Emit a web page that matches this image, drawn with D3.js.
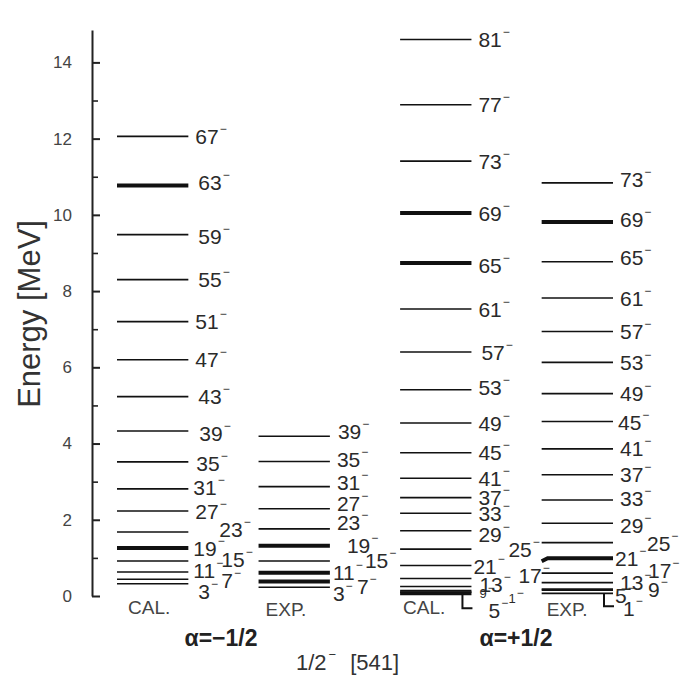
<!DOCTYPE html>
<meta charset="utf-8">
<script src="https://cdn.jsdelivr.net/npm/d3@7"></script>
<style>
  body { margin: 0; background: #fff; }
  text { font-family: "Liberation Sans", Arial, sans-serif; }
</style>
<body>
<div id="my_dataviz"></div>
<script>

// columns of the level scheme
var columns = ["calMinus", "expMinus", "calPlus", "expPlus"];
var columnNames = ["CAL.", "EXP.", "CAL.", "EXP."];

// alpha = -1/2, calculated
var calMinusSpin = [3, 7, 11, 15, 19, 23, 27, 31, 35, 39, 43, 47, 51, 55, 59, 63, 67];
var calMinusE = [0.32, 0.44, 0.63, 0.92, 1.26, 1.68, 2.23, 2.81, 3.52, 4.33, 5.23, 6.20, 7.20, 8.30, 9.48, 10.77, 12.06];
var calMinusThick = [19, 63];

// alpha = -1/2, experiment
var expMinusSpin = [3, 7, 11, 15, 19, 23, 27, 31, 35, 39];
var expMinusE = [0.23, 0.38, 0.61, 0.92, 1.32, 1.76, 2.29, 2.87, 3.53, 4.19];
var expMinusThick = [7, 11, 19];

// alpha = +1/2, calculated
var calPlusSpin = [1, 5, 9, 13, 17, 21, 25, 29, 33, 37, 41, 45, 49, 53, 57, 61, 65, 69, 73, 77, 81];
var calPlusE = [0.10, 0.07, 0.14, 0.25, 0.46, 0.80, 1.23, 1.71, 2.17, 2.58, 3.09, 3.76, 4.54, 5.41, 6.40, 7.53, 8.74, 10.05, 11.41, 12.89, 14.60];
var calPlusThick = [5, 65, 69];

// alpha = +1/2, experiment
var expPlusSpin = [1, 5, 9, 13, 17, 21, 25, 29, 33, 37, 41, 45, 49, 53, 57, 61, 65, 69, 73];
var expPlusE = [0.07, 0.15, 0.18, 0.35, 0.60, 0.99, 1.40, 1.91, 2.52, 3.18, 3.86, 4.58, 5.31, 6.13, 6.94, 7.82, 8.77, 9.81, 10.84];
var expPlusThick = [21, 69];

// axis ticks
var majorTicks = [0, 2, 4, 6, 8, 10, 12, 14];
var minorTicks = [1, 3, 5, 7, 9, 11, 13];

// label nudges for the crowded bottom of each column [dx, dy] in px
var labelNudge = {
  "calMinus-63": [3, -3], "calMinus-59": [3, 2], "calMinus-55": [3, 0], "calMinus-43": [3, 0],
  "calMinus-39": [4, 2], "calMinus-35": [1, 2], "calMinus-31": [-2, -1],
  "calMinus-23": [24, -3], "calMinus-19": [-2, 0], "calMinus-15": [26, -1],
  "calMinus-11": [-2, -2], "calMinus-7": [26, 1], "calMinus-3": [3, 8],
  "expMinus-39": [1, -5], "expMinus-35": [0, -2], "expMinus-31": [0, -4], "expMinus-27": [0, -5],
  "expMinus-23": [0, -6], "expMinus-19": [10, 0], "expMinus-15": [28, 0],
  "expMinus-11": [-4, 0], "expMinus-7": [20, 5], "expMinus-3": [-4, 6],
  "calPlus-65": [0, 3], "calPlus-57": [3, 0], "calPlus-53": [0, -2], "calPlus-29": [0, 4],
  "calPlus-25": [30, 0], "calPlus-21": [-5, 1], "calPlus-17": [40, -3], "calPlus-13": [1, -2],
  "calPlus-9": [1, 3], "calPlus-5": [10, 17], "calPlus-1": [30, 6],
  "expPlus-73": [0, -3], "expPlus-69": [0, -3], "expPlus-65": [0, -4], "expPlus-45": [-2, 1],
  "expPlus-33": [0, -2], "expPlus-29": [0, 2],
  "expPlus-25": [27, 1], "expPlus-21": [-5, 0], "expPlus-17": [28, -3],
  "expPlus-9": [28, 0], "expPlus-5": [-5, 5], "expPlus-1": [3, 15]
};
var smallLabels = ["calPlus-9", "calPlus-1"];
var bracketLabels = ["calPlus-5", "expPlus-1"];
var kinkLevels = ["expPlus-21"];

var width = 683, height = 676;

var svg = d3.select("#my_dataviz")
  .append("svg")
    .attr("width", width)
    .attr("height", height);

var y = d3.scaleLinear()
  .domain([0, 14.85])
  .range([596, 30]);

var x = d3.scaleBand()
  .domain(columns)
  .range([117, 613])
  .paddingInner(0.496)
  .paddingOuter(0);

// Y axis, ticks pointing inward
var axisX = 92;
svg.append("g")
  .attr("transform", "translate(" + axisX + ",0)")
  .call(d3.axisLeft(y).tickValues(majorTicks).tickSizeInner(-8).tickSizeOuter(0).tickPadding(20)
    .tickFormat(d3.format("d")))
  .call(function (g) {
    g.select(".domain").attr("stroke", "#222").attr("stroke-width", 2);
    g.selectAll(".tick line").attr("stroke", "#222").attr("stroke-width", 2);
    g.selectAll(".tick text").attr("fill", "#444").style("font-size", "17px")
      .style("font-family", "Liberation Sans, Arial, sans-serif");
  });

svg.append("g")
  .attr("transform", "translate(" + axisX + ",0)")
  .call(d3.axisLeft(y).tickValues(minorTicks).tickSizeInner(-6).tickSizeOuter(0).tickFormat(""))
  .call(function (g) {
    g.select(".domain").remove();
    g.selectAll(".tick line").attr("stroke", "#222").attr("stroke-width", 1.6);
  });

svg.append("text")
  .attr("transform", "translate(40," + y(7.4) + ") rotate(-90)")
  .attr("text-anchor", "middle")
  .attr("fill", "#333")
  .style("font-size", "31px")
  .text("Energy [MeV]");

// build levels from the arrays
var sets = [
  {col: "calMinus", spins: calMinusSpin, energies: calMinusE, thick: calMinusThick},
  {col: "expMinus", spins: expMinusSpin, energies: expMinusE, thick: expMinusThick},
  {col: "calPlus", spins: calPlusSpin, energies: calPlusE, thick: calPlusThick},
  {col: "expPlus", spins: expPlusSpin, energies: expPlusE, thick: expPlusThick}
];
var levels = [];
sets.forEach(function (s) {
  s.spins.forEach(function (j, i) {
    levels.push({col: s.col, spin: j, e: s.energies[i], thick: s.thick.indexOf(j) >= 0, key: s.col + "-" + j});
  });
});

// level lines
svg.append("g")
  .selectAll("path")
  .data(levels)
  .enter()
  .append("path")
    .attr("d", function (d) {
      var x1 = x(d.col), x2 = x(d.col) + x.bandwidth(), yy = y(d.e);
      if (kinkLevels.indexOf(d.key) >= 0) {
        return "M" + x1 + "," + (yy + 3) + "L" + (x1 + 6) + "," + yy + "L" + x2 + "," + yy;
      }
      return "M" + x1 + "," + yy + "L" + x2 + "," + yy;
    })
    .attr("fill", "none")
    .attr("stroke", "#111")
    .attr("stroke-width", function (d) { return d.thick ? 4 : 1.6; });

function labelPos(d) {
  var n = labelNudge[d.key] || [0, 0];
  return [x(d.col) + x.bandwidth() + 7 + n[0], y(d.e) + n[1]];
}

// brackets linking a line to a displaced label
svg.append("g")
  .selectAll("path")
  .data(levels.filter(function (d) { return bracketLabels.indexOf(d.key) >= 0; }))
  .enter()
  .append("path")
    .attr("d", function (d) {
      var x2 = x(d.col) + x.bandwidth(), p = labelPos(d);
      return "M" + (x2 - 9) + "," + y(d.e) + "L" + (x2 - 9) + "," + (p[1] - 2) + "L" + (x2 + 1) + "," + (p[1] - 2);
    })
    .attr("fill", "none")
    .attr("stroke", "#111")
    .attr("stroke-width", 2);

// spin labels with superscript minus
var lab = svg.append("g")
  .selectAll("text")
  .data(levels)
  .enter()
  .append("text")
    .attr("x", function (d) { return labelPos(d)[0]; })
    .attr("y", function (d) {
      var fs = smallLabels.indexOf(d.key) >= 0 ? 13 : 21;
      return labelPos(d)[1] + 0.36 * fs;
    })
    .attr("fill", "#2a2a2a")
    .style("font-size", function (d) { return smallLabels.indexOf(d.key) >= 0 ? "13px" : "21px"; });
lab.append("tspan").text(function (d) { return d.spin; });
lab.append("tspan")
  .attr("dy", function (d) { return smallLabels.indexOf(d.key) >= 0 ? -6 : -11; })
  .attr("dx", 1)
  .style("font-size", "12px")
  .text("\u2212");

// CAL./EXP. captions
svg.append("g")
  .selectAll("text")
  .data(columns)
  .enter()
  .append("text")
    .attr("x", function (d, i) { return x(d) + [11, 7, 3, 5][i]; })
    .attr("y", function (d, i) { return i % 2 ? 616 : 614; })
    .attr("fill", "#444")
    .style("font-size", "19px")
    .text(function (d, i) { return columnNames[i]; });

// signature and orbital labels
svg.append("text")
  .attr("x", 221).attr("y", 646)
  .attr("text-anchor", "middle")
  .attr("fill", "#222")
  .style("font-size", "23px").style("font-weight", "bold")
  .text("\u03b1=\u22121/2");

svg.append("text")
  .attr("x", 516).attr("y", 646)
  .attr("text-anchor", "middle")
  .attr("fill", "#222")
  .style("font-size", "23px").style("font-weight", "bold")
  .text("\u03b1=+1/2");

var orb = svg.append("text")
  .attr("x", 296).attr("y", 670)
  .attr("fill", "#333")
  .style("font-size", "22px");
orb.append("tspan").text("1/2");
orb.append("tspan").attr("dy", -11).attr("dx", 2).style("font-size", "13px").text("\u2212");
orb.append("tspan").attr("dy", 11).attr("dx", 14).text("[541]");

</script>
</body>
